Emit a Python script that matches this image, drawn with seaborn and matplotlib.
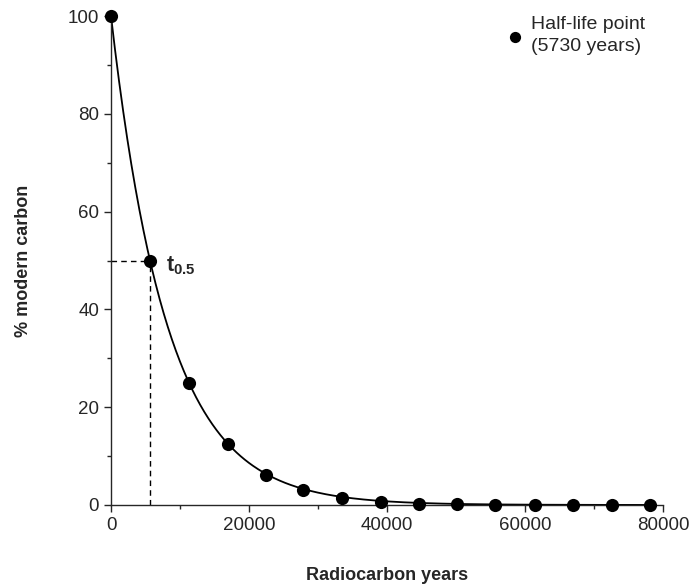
import numpy as np
import pandas as pd
import matplotlib.pyplot as plt
import seaborn as sns

# Data
years = [0, 5650, 11300, 16960, 22460, 27830, 33480, 39130,
         44640, 50140, 55650, 61450, 66950, 72600, 78120]
pct_modern = [100, 50, 25, 12.4, 6.2, 3.0, 1.4, 0.7,
              0.2, 0.1, 0.05, 0.03, 0.02, 0.01, 0.01]
x_ticks = [0, 20000, 40000, 60000, 80000]
y_ticks = [0, 20, 40, 60, 80, 100]
legend_label = "Half-life point\n(5730 years)"

df = pd.DataFrame({"years": years, "pct": pct_modern})

# decay curve through the points, half-life taken from the first step
half_life = years[1]
t_curve = np.linspace(0, years[-1], 400)
curve = pd.DataFrame({"years": t_curve,
                      "pct": 100 * 0.5 ** (t_curve / half_life)})

sns.set_style("ticks")
plt.rcParams["font.family"] = ["Liberation Sans", "DejaVu Sans"]
plt.rcParams["mathtext.fontset"] = "custom"
plt.rcParams["mathtext.bf"] = "Liberation Sans:bold"
plt.rcParams["mathtext.rm"] = "Liberation Sans"

fig = plt.figure(figsize=(6.96, 5.85), dpi=100)
ax = fig.add_axes([0.1595, 0.1368, 0.7931, 0.8358])

sns.lineplot(data=curve, x="years", y="pct", color="black", lw=1.3, ax=ax)

# dashed guide lines to the half-life point
ax.plot([0, years[1]], [pct_modern[1], pct_modern[1]], ls=(0, (4, 3)), color="black", lw=1)
ax.plot([years[1], years[1]], [0, pct_modern[1]], ls=(0, (4, 3)), color="black", lw=1)

sns.scatterplot(data=df, x="years", y="pct", color="black", s=90,
                edgecolor="black", linewidth=0, zorder=5, clip_on=False,
                label=legend_label, ax=ax)

ax.text(years[1] + 2300, pct_modern[1] - 1, r"$\mathbf{t_{0.5}}$",
        fontsize=15.5, va="center", ha="left")

ax.set_xlim(0, 80000)
ax.set_ylim(0, 100)
ax.set_xticks(x_ticks)
ax.set_yticks(y_ticks)
ax.set_xticks([10000, 30000, 50000, 70000], minor=True)
ax.set_yticks([10, 30, 50, 70, 90], minor=True)
ax.tick_params(which="major", length=5, width=1, labelsize=13.5, direction="out")
ax.tick_params(which="minor", length=3, width=1, direction="out")
for s in ["top", "right"]:
    ax.spines[s].set_visible(False)
for s in ["left", "bottom"]:
    ax.spines[s].set_linewidth(1)

ax.set_xlabel("Radiocarbon years", fontsize=13, fontweight="bold", labelpad=24)
ax.set_ylabel("% modern carbon", fontsize=13, fontweight="bold", labelpad=26)

leg = ax.legend(loc="upper right", bbox_to_anchor=(1.0, 1.035), frameon=False,
                fontsize=14, handlelength=0.6, handletextpad=0.55,
                markerscale=0.85)
for t in leg.get_texts():
    t.set_linespacing(1.35)

fig.savefig("out.png", dpi=100)
